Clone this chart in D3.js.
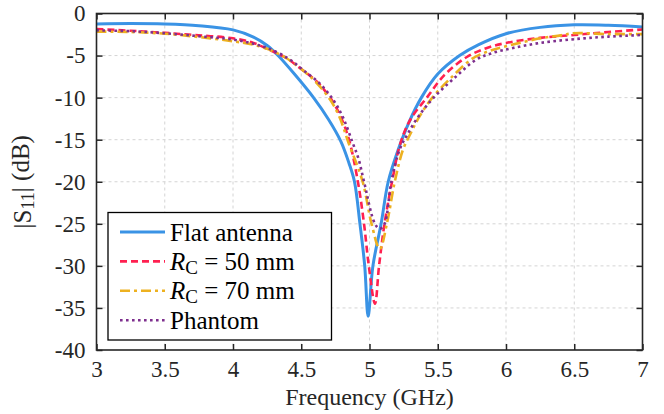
<!DOCTYPE html>
<html>
<head>
<meta charset="utf-8">
<script src="https://cdn.jsdelivr.net/npm/d3@7"></script>
<style>
  body { margin: 0; background: #fff; }
  svg, svg text { font-family: "Liberation Serif", "Times New Roman", Times, "DejaVu Serif", serif !important; }
</style>
</head>
<body>
<div id="chart"></div>
<script>
// données : [fréquence (GHz), |S11| (dB)]
const flatAntenna = [[3.0,-1.25],[3.25,-1.2],[3.5,-1.25],[3.75,-1.45],[4.0,-1.95],[4.15,-2.8],[4.25,-3.8],[4.33,-5],[4.45,-7.2],[4.59,-10],[4.7,-12.6],[4.79,-15.2],[4.85,-17.8],[4.89,-20],[4.93,-25],[4.965,-30],[4.99,-36],[5.025,-30],[5.085,-25],[5.137,-20],[5.21,-16.2],[5.29,-12.9],[5.38,-10],[5.5,-7.2],[5.66,-5],[5.8,-3.7],[6.0,-2.4],[6.25,-1.65],[6.5,-1.35],[6.75,-1.4],[7.0,-1.6]];
const rc50 = [[3.0,-1.85],[3.25,-2.05],[3.5,-2.3],[3.75,-2.6],[4.0,-2.95],[4.15,-3.5],[4.25,-4.2],[4.38,-5.2],[4.5,-6.6],[4.62,-8.2],[4.72,-10.2],[4.79,-12.3],[4.85,-15],[4.915,-20],[4.96,-25],[4.995,-30],[5.04,-34.5],[5.07,-30],[5.11,-25],[5.165,-20],[5.225,-15.5],[5.3,-12.6],[5.42,-10],[5.55,-7.3],[5.71,-5.2],[5.85,-4.15],[6.0,-3.5],[6.25,-2.9],[6.5,-2.55],[6.75,-2.2],[7.0,-1.9]];
const rc70 = [[3.0,-2.15],[3.25,-2.2],[3.5,-2.4],[3.75,-2.8],[4.0,-3.3],[4.15,-3.7],[4.25,-4.2],[4.38,-5.2],[4.5,-6.6],[4.61,-8.2],[4.71,-10.2],[4.78,-12.3],[4.845,-15.3],[4.95,-20],[5.015,-25],[5.075,-28],[5.127,-25],[5.185,-20],[5.245,-16.2],[5.3,-14.3],[5.36,-12.4],[5.46,-10],[5.6,-7.6],[5.75,-5.4],[5.87,-4.5],[6.0,-3.9],[6.25,-2.95],[6.4,-2.6],[6.5,-2.35],[6.75,-2.45],[7.0,-2.45]];
const phantom = [[3.0,-2.0],[3.25,-2.1],[3.5,-2.35],[3.75,-2.7],[4.0,-3.1],[4.15,-3.6],[4.25,-4.1],[4.4,-5.3],[4.52,-6.8],[4.64,-8.4],[4.74,-10.4],[4.81,-12.5],[4.875,-15.3],[4.92,-17.3],[4.96,-20],[5.04,-25],[5.075,-25.6],[5.11,-25],[5.16,-20],[5.22,-16.2],[5.28,-14.3],[5.36,-12.2],[5.47,-10],[5.62,-7.7],[5.78,-5.5],[5.9,-4.7],[6.05,-4.1],[6.25,-3.5],[6.5,-3.05],[6.75,-2.75],[7.0,-2.55]];

const seriesNames = ["Flat antenna", "R_C = 50 mm", "R_C = 70 mm", "Phantom"];
const xTicks = [3, 3.5, 4, 4.5, 5, 5.5, 6, 6.5, 7];
const yTicks = [0, -5, -10, -15, -20, -25, -30, -35, -40];

const series = [
  { name: seriesNames[0], values: flatAntenna, color: "#3a93e5", width: 3,   dash: null },
  { name: seriesNames[1], values: rc50,        color: "#ff2050", width: 2.6, dash: "7,4" },
  { name: seriesNames[2], values: rc70,        color: "#edb120", width: 2.6, dash: "10,4,3,4" },
  { name: seriesNames[3], values: phantom,     color: "#7e2f8e", width: 2.6, dash: "2.6,3.4" }
];

const fullWidth = 664, fullHeight = 414;
const margin = { top: 13.5, right: 21.5, bottom: 64, left: 96.5 },
      width = fullWidth - margin.left - margin.right,
      height = fullHeight - margin.top - margin.bottom;

const svg = d3.select("#chart").append("svg")
    .attr("width", fullWidth)
    .attr("height", fullHeight);

const g = svg.append("g")
    .attr("transform", "translate(" + margin.left + "," + margin.top + ")");

const xScale = d3.scaleLinear().domain([3, 7]).range([0, width]);
const yScale = d3.scaleLinear().domain([-40, 0]).range([height, 0]);

// grille
g.append("g").selectAll("line")
  .data(xTicks.slice(1, -1)).enter().append("line")
  .attr("x1", d => xScale(d)).attr("x2", d => xScale(d))
  .attr("y1", 0).attr("y2", height)
  .attr("stroke", "#d4d4d4").attr("stroke-width", 1).attr("stroke-dasharray", "3,3");
g.append("g").selectAll("line")
  .data(yTicks.slice(1, -1)).enter().append("line")
  .attr("y1", d => yScale(d)).attr("y2", d => yScale(d))
  .attr("x1", 0).attr("x2", width)
  .attr("stroke", "#d4d4d4").attr("stroke-width", 1).attr("stroke-dasharray", "3,3");

// courbes
const line = d3.line()
    .x(d => xScale(d[0]))
    .y(d => yScale(d[1]))
    .curve(d3.curveCatmullRom.alpha(0.5));

series.forEach(function(s) {
  g.append("path")
    .datum(s.values)
    .attr("fill", "none")
    .attr("stroke", s.color)
    .attr("stroke-width", s.width)
    .attr("stroke-dasharray", s.dash)
    .attr("d", line);
});

// axes (ticks vers l'intérieur, sur les quatre côtés)
const axisColor = "#262626";
const xAxis = g.append("g").attr("transform", "translate(0," + height + ")")
  .call(d3.axisBottom(xScale).tickValues(xTicks).tickSize(-6).tickPadding(11).tickFormat(d => String(d)));
const xAxisTop = g.append("g")
  .call(d3.axisTop(xScale).tickValues(xTicks).tickSize(-6).tickFormat(""));
const yAxis = g.append("g")
  .call(d3.axisLeft(yScale).tickValues(yTicks).tickSize(-6).tickPadding(11).tickFormat(d => String(d)));
const yAxisRight = g.append("g").attr("transform", "translate(" + width + ",0)")
  .call(d3.axisRight(yScale).tickValues(yTicks).tickSize(-6).tickFormat(""));

[xAxis, xAxisTop, yAxis, yAxisRight].forEach(function(a) {
  a.attr("font-family", null);
  a.select(".domain").remove();
  a.selectAll(".tick line").attr("stroke", axisColor).attr("stroke-width", 1.5);
  a.selectAll(".tick text").attr("fill", axisColor).style("font-size", "23px");
});

g.append("rect")
  .attr("width", width).attr("height", height)
  .attr("fill", "none").attr("stroke", axisColor).attr("stroke-width", 1.6);

// titres des axes
g.append("text")
  .attr("x", width / 2).attr("y", height + 55)
  .attr("text-anchor", "middle")
  .style("font-size", "24px").attr("fill", axisColor)
  .text("Frequency (GHz)");

const yLabel = g.append("text")
  .attr("transform", "translate(" + (-66) + "," + (height / 2) + ") rotate(-90)")
  .attr("text-anchor", "middle")
  .style("font-size", "25px").attr("fill", axisColor);
yLabel.append("tspan").text("|S");
yLabel.append("tspan").attr("dy", "0.22em").style("font-size", "18px").text("11");
yLabel.append("tspan").attr("dy", "-0.22em").text("| (dB)");

// légende
const legend = svg.append("g").attr("transform", "translate(108,212.5)");
legend.append("rect")
  .attr("width", 223.5).attr("height", 127.5)
  .attr("fill", "#fff").attr("stroke", "#000").attr("stroke-width", 1.3);

series.forEach(function(s, i) {
  const row = legend.append("g").attr("transform", "translate(0," + (19.5 + i * 29.4) + ")");
  row.append("line")
    .attr("x1", 12).attr("x2", 57).attr("y1", 0).attr("y2", 0)
    .attr("stroke", s.color).attr("stroke-width", s.width)
    .attr("stroke-dasharray", s.dash);
  const t = row.append("text")
    .attr("x", 62).attr("y", 0).attr("dy", "0.34em")
    .style("font-size", "25px").attr("fill", "#000");
  if (s.name.startsWith("R_C")) {
    t.append("tspan").style("font-style", "italic").text("R");
    t.append("tspan").attr("dy", "0.22em").style("font-size", "19px").text("C");
    t.append("tspan").attr("dy", "-0.18em").text(s.name.slice(3));
  } else {
    t.text(s.name);
  }
});
</script>
</body>
</html>
